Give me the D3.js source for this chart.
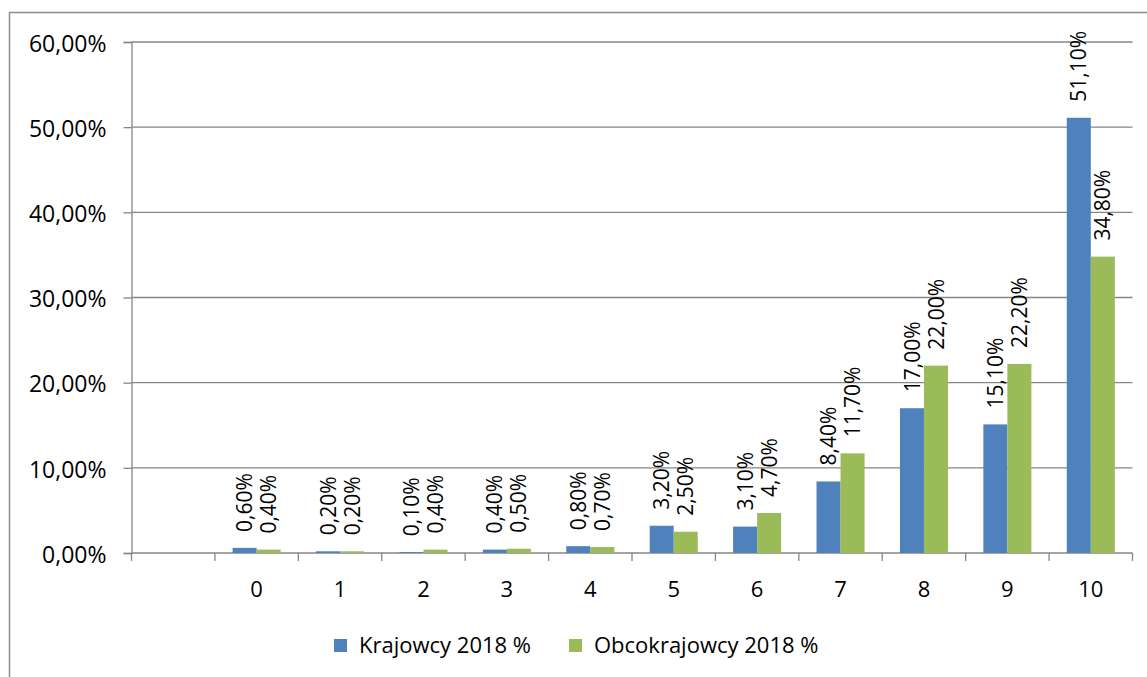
<!DOCTYPE html>
<html>
<head>
<meta charset="utf-8">
<script src="https://cdn.jsdelivr.net/npm/d3@7"></script>
<style>
  body { margin: 0; background: #fff; }
  svg { display: block; font-family: "Open Sans", sans-serif; }
</style>
</head>
<body>
<svg width="1147" height="677"></svg>
<script>
// data
var categories = ["", "0", "1", "2", "3", "4", "5", "6", "7", "8", "9", "10"];
var krajowcy = [null, 0.6, 0.2, 0.1, 0.4, 0.8, 3.2, 3.1, 8.4, 17.0, 15.1, 51.1];
var obcokrajowcy = [null, 0.4, 0.2, 0.4, 0.5, 0.7, 2.5, 4.7, 11.7, 22.0, 22.2, 34.8];
var seriesNames = ["Krajowcy 2018 %", "Obcokrajowcy 2018 %"];
var seriesColors = ["#4f81bd", "#9bbb59"];
var yTicks = [0, 10, 20, 30, 40, 50, 60];

var svg = d3.select("svg"),
    margin = { top: 42, right: 14.5, bottom: 124, left: 131.5 },
    width = +svg.attr("width") - margin.left - margin.right,
    height = +svg.attr("height") - margin.top - margin.bottom;

// chart frame (runs off the right and bottom edges)
svg.append("rect")
    .attr("x", 9.5).attr("y", 12.5)
    .attr("width", 1160).attr("height", 700)
    .attr("fill", "none")
    .attr("stroke", "#8c8c8c")
    .attr("stroke-width", 1.5);

var g = svg.append("g").attr("transform", "translate(" + margin.left + "," + margin.top + ")");

var x0 = d3.scaleBand().domain(d3.range(categories.length)).range([0, width]).paddingInner(0.424).paddingOuter(0.212);
var xTick = d3.scaleBand().domain(d3.range(categories.length)).range([0, width]);
var x1 = d3.scaleBand().domain([0, 1]).range([0, x0.bandwidth()]);
var y = d3.scaleLinear().domain([0, 60]).range([height, 0]);

var fmt = function (v) { return d3.format(".2f")(v).replace(".", ",") + "%"; };

// gridlines
g.append("g")
    .selectAll("line")
    .data(yTicks.slice(1))
    .enter().append("line")
    .attr("x1", 0).attr("x2", width)
    .attr("y1", function (d) { return y(d); })
    .attr("y2", function (d) { return y(d); })
    .attr("stroke", "#868686")
    .attr("stroke-width", 1.3);

// y axis
var yAxis = g.append("g")
    .call(d3.axisLeft(y).tickValues(yTicks).tickSize(8).tickPadding(17).tickFormat(fmt));
yAxis.selectAll("line, path").attr("stroke", "#868686").attr("stroke-width", 1.3);
yAxis.selectAll("text").attr("font-size", 23).attr("font-family", "Open Sans").attr("fill", "#000")
    .attr("dy", "0.4em");

// x axis with ticks at category boundaries
var xAxis = g.append("g").attr("transform", "translate(0," + height + ")");
xAxis.append("line")
    .attr("x1", 0).attr("x2", width)
    .attr("stroke", "#868686").attr("stroke-width", 1.3);
xAxis.selectAll(".tk")
    .data(d3.range(categories.length + 1))
    .enter().append("line")
    .attr("x1", function (i) { return i * xTick.step(); })
    .attr("x2", function (i) { return i * xTick.step(); })
    .attr("y1", 0).attr("y2", 8)
    .attr("stroke", "#868686").attr("stroke-width", 1.3);
xAxis.selectAll(".lbl")
    .data(categories)
    .enter().append("text")
    .attr("x", function (d, i) { return xTick(i) + xTick.bandwidth() / 2; })
    .attr("y", 44)
    .attr("text-anchor", "middle")
    .attr("font-size", 22)
    .attr("fill", "#000")
    .text(function (d) { return d; });

// bars + labels
[krajowcy, obcokrajowcy].forEach(function (vals, s) {
    var data = vals.map(function (v, i) { return { i: i, v: v }; }).filter(function (d) { return d.v !== null; });
    g.append("g").selectAll("rect")
        .data(data)
        .enter().append("rect")
        .attr("x", function (d) { return x0(d.i) + x1(s); })
        .attr("y", function (d) { return y(d.v); })
        .attr("width", x1.bandwidth())
        .attr("height", function (d) { return height - y(d.v); })
        .attr("fill", seriesColors[s]);

    g.append("g").selectAll("text")
        .data(data)
        .enter().append("text")
        .attr("transform", function (d) {
            return "translate(" + (x0(d.i) + x1(s) + x1.bandwidth() / 2) + "," + (y(d.v) - 16) + ") rotate(-90)";
        })
        .attr("dy", "0.36em")
        .attr("font-size", 21)
        .attr("fill", "#000")
        .text(function (d) { return fmt(d.v); });
});

// legend
var legend = svg.append("g");
var legendX = [334, 569];
seriesNames.forEach(function (name, s) {
    legend.append("rect")
        .attr("x", legendX[s]).attr("y", 639)
        .attr("width", 13).attr("height", 13)
        .attr("fill", seriesColors[s]);
    legend.append("text")
        .attr("x", legendX[s] + 25).attr("y", 653)
        .attr("font-size", 22)
        .attr("fill", "#000")
        .text(name);
});
</script>
</body>
</html>
